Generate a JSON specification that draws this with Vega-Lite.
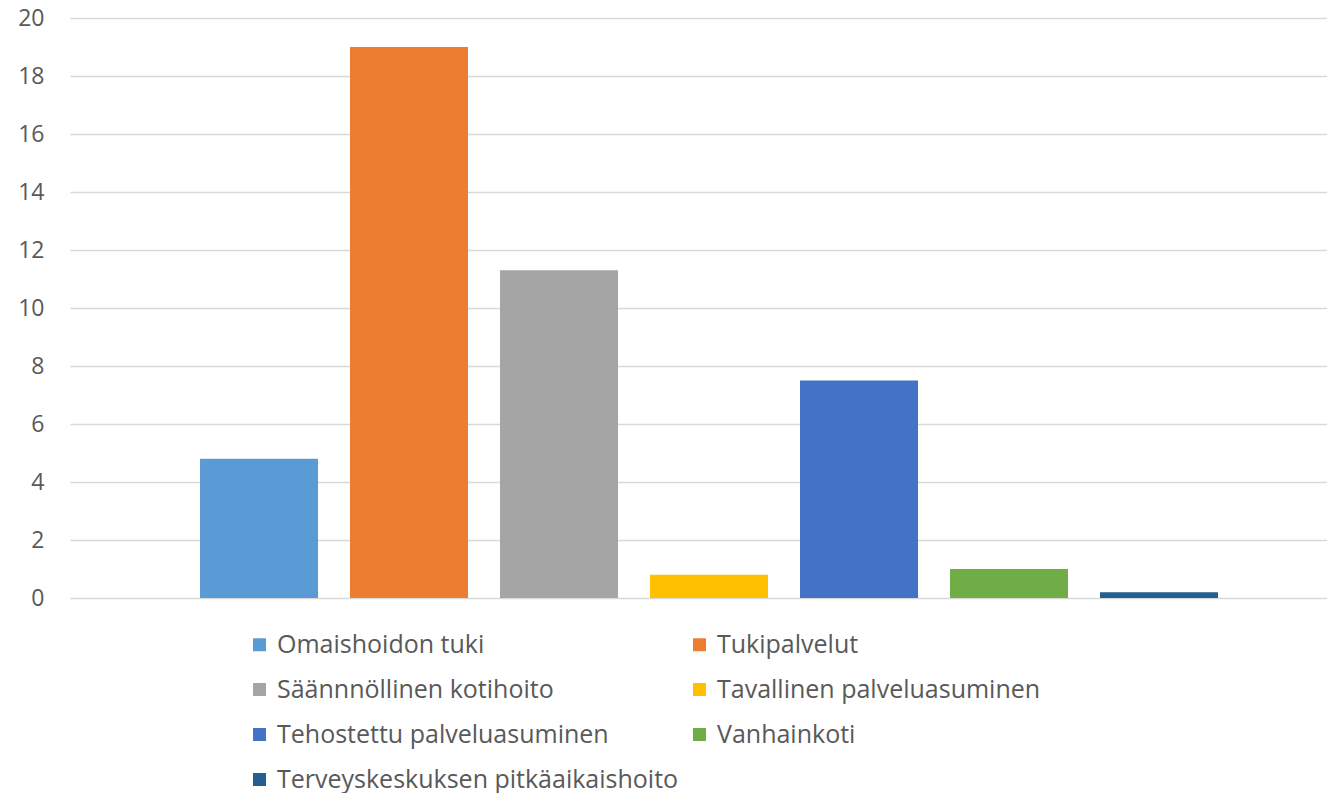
{
  "$schema": "https://vega.github.io/schema/vega-lite/v6.json",
  "width": 1257,
  "height": 580,
  "autosize": "none",
  "padding": {"left": 70, "top": 18, "right": 0, "bottom": 195},
  "background": "white",
  "config": {"view": {"stroke": null}, "font": "Open Sans"},
  "data": {"values": [
    {"palvelu": "Omaishoidon tuki", "arvo": 4.8},
    {"palvelu": "Tukipalvelut", "arvo": 19.0},
    {"palvelu": "Säännnöllinen kotihoito", "arvo": 11.3},
    {"palvelu": "Tavallinen palveluasuminen", "arvo": 0.8},
    {"palvelu": "Tehostettu palveluasuminen", "arvo": 7.5},
    {"palvelu": "Vanhainkoti", "arvo": 1.0},
    {"palvelu": "Terveyskeskuksen pitkäaikaishoito", "arvo": 0.2}
  ]},
  "mark": {"type": "bar"},
  "encoding": {
    "x": {
      "field": "palvelu", "type": "nominal", "sort": null,
      "scale": {"paddingInner": 0.2133, "paddingOuter": 0.7967, "align": 0.544},
      "axis": null
    },
    "y": {
      "field": "arvo", "type": "quantitative",
      "scale": {"domain": [0, 20], "nice": false},
      "axis": {
        "title": null, "values": [0, 2, 4, 6, 8, 10, 12, 14, 16, 18, 20],
        "domain": false, "ticks": false, "labelPadding": 26,
        "labelFontSize": 23, "labelColor": "#595959",
        "gridColor": "#d9d9d9", "gridWidth": 1.3
      }
    },
    "color": {
      "field": "palvelu", "type": "nominal", "sort": null,
      "scale": {
        "domain": ["Omaishoidon tuki", "Tukipalvelut", "Säännnöllinen kotihoito", "Tavallinen palveluasuminen", "Tehostettu palveluasuminen", "Vanhainkoti", "Terveyskeskuksen pitkäaikaishoito"],
        "range": ["#5B9BD5", "#ED7D31", "#A5A5A5", "#FFC000", "#4472C4", "#70AD47", "#255E91"]
      },
      "legend": {
        "title": null, "orient": "none", "legendX": 177, "legendY": 614,
        "columns": 2, "direction": "horizontal",
        "symbolType": "square", "symbolSize": 169, "symbolStrokeWidth": 0,
        "labelFontSize": 25, "labelColor": "#595959", "labelLimit": 700,
        "labelOffset": 5, "rowPadding": 19, "columnPadding": 8
      }
    }
  }
}
